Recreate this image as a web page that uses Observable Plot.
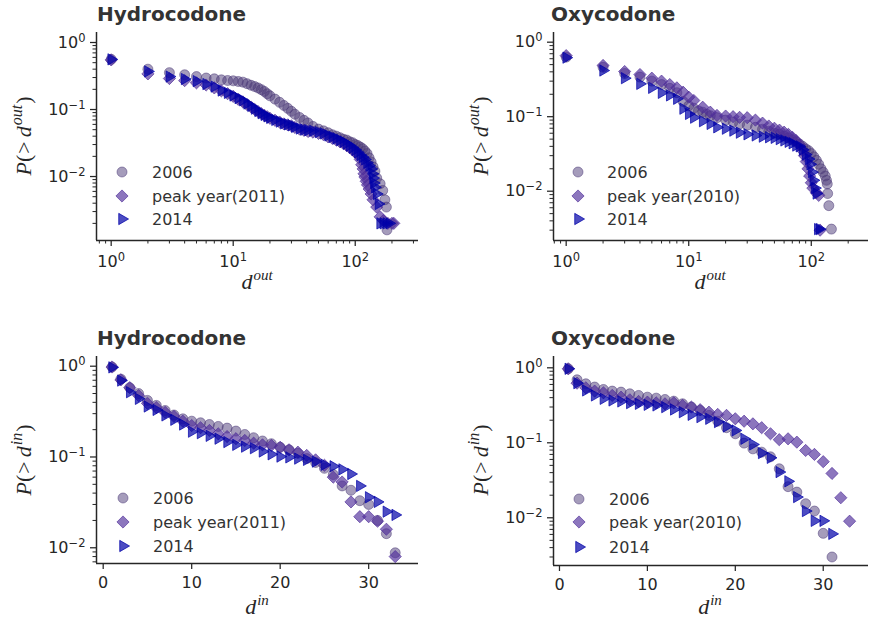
<!DOCTYPE html>
<html><head><meta charset="utf-8">
<script src="https://cdn.jsdelivr.net/npm/d3@7"></script>
<script src="https://cdn.jsdelivr.net/npm/@observablehq/plot@0.6"></script>
<style>
body{margin:0;background:#fff;}
#wrap{position:relative;width:870px;height:627px;overflow:hidden;background:#fff;}
.panel{position:absolute;}
#overlay{position:absolute;left:0;top:0;pointer-events:none;}
</style></head>
<body><div id="wrap"></div>
<script>
// ---------- tick labels ----------
const logYTicks = [1, 0.1, 0.01];
const logYLabels = ["10⁰", "10⁻¹", "10⁻²"];
const logXTicks = [1, 10, 100];
const logXLabels = ["10⁰", "10¹", "10²"];
const linXTicks = [0, 10, 20, 30];
const linXLabels = ["0", "10", "20", "30"];

// ---------- legends / titles ----------
const hydLegend = ["2006", "peak year(2011)", "2014"];
const oxyLegend = ["2006", "peak year(2010)", "2014"];
const titles = ["Hydrocodone", "Oxycodone", "Hydrocodone", "Oxycodone"];

// ---------- Panel A: Hydrocodone out-degree ----------
const hOut06D = [1,2,3,4,5,6,7,8,9,10,11,12,13,14,15,16,17,18,19,20,22,24,26,28,30,32,35,38,41,45,50,55,60,65,70,75,80,85,90,95,100,105,110,115,120,125,130,135,140,145,150,160,168,175,180,182];
const hOut06P = [0.56,0.40,0.355,0.33,0.31,0.295,0.287,0.277,0.271,0.268,0.262,0.256,0.243,0.23,0.22,0.21,0.198,0.186,0.172,0.16,0.143,0.128,0.115,0.104,0.094,0.085,0.076,0.069,0.063,0.056,0.051,0.048,0.045,0.042,0.040,0.038,0.036,0.035,0.033,0.032,0.030,0.029,0.0275,0.026,0.024,0.022,0.019,0.0165,0.014,0.012,0.0095,0.0078,0.0062,0.0045,0.0035,0.0016];
const hOut11D = [1,2,3,4,5,6,7,8,9,10,11,12,13,14,15,16,17,18,19,20,22,24,26,28,30,32,35,38,41,45,50,55,60,65,70,75,80,85,90,95,100,105,110,113,116,118,120,123,126,130,135,140,150,160,170,185,200,207];
const hOut11P = [0.55,0.34,0.29,0.27,0.25,0.232,0.21,0.19,0.172,0.157,0.142,0.13,0.118,0.109,0.1,0.093,0.087,0.082,0.078,0.074,0.069,0.065,0.061,0.059,0.057,0.054,0.051,0.049,0.047,0.046,0.044,0.042,0.039,0.037,0.035,0.033,0.031,0.029,0.027,0.025,0.023,0.021,0.018,0.015,0.013,0.011,0.0098,0.0085,0.0075,0.0065,0.0055,0.0045,0.0035,0.0025,0.0022,0.002,0.002,0.002];
const hOut14D = [1,2,3,4,5,6,7,8,9,10,11,12,13,14,15,16,17,18,19,20,22,24,26,28,30,32,35,38,41,45,50,55,60,65,70,75,80,85,90,95,100,105,110,115,120,125,130,135,138,140,142,145,150,155,160,170,180,190];
const hOut14P = [0.56,0.37,0.31,0.285,0.265,0.24,0.22,0.192,0.177,0.162,0.148,0.137,0.123,0.113,0.103,0.095,0.088,0.083,0.079,0.075,0.07,0.066,0.062,0.06,0.058,0.055,0.052,0.05,0.049,0.048,0.046,0.044,0.041,0.039,0.037,0.035,0.033,0.031,0.029,0.027,0.025,0.023,0.021,0.0195,0.018,0.016,0.0145,0.013,0.011,0.0095,0.008,0.0069,0.0055,0.0039,0.002,0.002,0.002,0.002];

// ---------- Panel B: Oxycodone out-degree ----------
const oOut06D = [1,2,3,4,5,6,7,8,9,10,11,12,13,14,15,17,20,23,26,30,35,40,45,50,55,60,65,70,75,80,85,90,95,100,105,110,115,120,125,130,133,135,136,139,146];
const oOut06P = [0.63,0.46,0.38,0.34,0.30,0.27,0.24,0.21,0.16,0.14,0.13,0.12,0.115,0.108,0.103,0.097,0.09,0.085,0.08,0.077,0.072,0.068,0.064,0.06,0.058,0.055,0.052,0.049,0.046,0.043,0.04,0.037,0.035,0.032,0.029,0.026,0.023,0.02,0.018,0.016,0.014,0.0125,0.0093,0.0064,0.0031];
const oOut10D = [1,2,3,4,5,6,7,8,9,10,11,13,15,17,20,23,26,30,35,40,45,50,55,60,65,70,75,80,85,88,91,94,97,100,103,110,115,118];
const oOut10P = [0.66,0.487,0.404,0.368,0.329,0.30,0.27,0.244,0.213,0.183,0.165,0.134,0.115,0.104,0.102,0.1,0.098,0.097,0.09,0.082,0.075,0.07,0.066,0.062,0.058,0.053,0.048,0.042,0.035,0.03,0.025,0.02,0.016,0.013,0.011,0.0095,0.0088,0.003];
const oOut14D = [1,2,3,4,5,6,7,8,9,10,11,13,15,17,20,23,26,30,35,40,45,50,55,60,65,70,75,80,85,90,95,98,101,104,107,110,113,117];
const oOut14P = [0.62,0.417,0.329,0.276,0.244,0.209,0.193,0.174,0.128,0.109,0.097,0.087,0.08,0.072,0.069,0.065,0.061,0.058,0.056,0.054,0.053,0.052,0.05,0.048,0.046,0.044,0.041,0.04,0.036,0.031,0.027,0.023,0.018,0.014,0.011,0.0093,0.0031,0.0031];

// ---------- Panel C: Hydrocodone in-degree ----------
const hInD = [1,2,3,4,5,6,7,8,9,10,11,12,13,14,15,16,17,18,19,20,21,22,23,24,25,26,27,28,29,30,31,32,33];
const hIn06P = [0.98,0.72,0.58,0.50,0.42,0.37,0.325,0.29,0.263,0.248,0.238,0.228,0.217,0.208,0.193,0.177,0.163,0.15,0.14,0.128,0.12,0.11,0.096,0.087,0.075,0.064,0.048,0.043,0.033,0.030,0.020,0.0143,0.0088];
const hIn11P = [0.98,0.707,0.58,0.475,0.39,0.35,0.31,0.28,0.248,0.222,0.21,0.196,0.18,0.168,0.159,0.152,0.142,0.136,0.134,0.128,0.12,0.113,0.104,0.093,0.081,0.06,0.053,0.032,0.022,0.022,0.0196,0.016,0.008];
const hIn14P = [0.97,0.695,0.517,0.437,0.36,0.33,0.287,0.257,0.228,0.19,0.183,0.171,0.159,0.146,0.136,0.13,0.125,0.115,0.107,0.101,0.099,0.096,0.093,0.089,0.082,0.079,0.073,0.065,0.048,0.036,0.032,0.025,0.023];

// ---------- Panel D: Oxycodone in-degree ----------
const oIn06D = [1,2,3,4,5,6,7,8,9,10,11,12,13,14,15,16,17,18,19,20,21,22,23,24,25,26,27,28,29,30,31];
const oIn06P = [0.97,0.692,0.612,0.554,0.514,0.489,0.474,0.45,0.428,0.406,0.394,0.378,0.359,0.331,0.30,0.27,0.232,0.194,0.159,0.132,0.099,0.083,0.075,0.065,0.045,0.026,0.022,0.0154,0.0123,0.0062,0.003];
const oIn10D = [1,2,3,4,5,6,7,8,9,10,11,12,13,14,15,16,17,18,19,20,21,22,23,24,25,26,27,28,29,30,31,32,33];
const oIn10P = [0.97,0.624,0.541,0.489,0.464,0.428,0.406,0.375,0.356,0.349,0.341,0.331,0.341,0.315,0.299,0.276,0.256,0.239,0.232,0.209,0.194,0.179,0.159,0.132,0.11,0.113,0.102,0.079,0.07,0.056,0.039,0.0185,0.009];
const oIn14D = [1,2,3,4,5,6,7,8,9,10,11,12,13,14,15,16,17,18,19,20,21,22,23,24,25,26,27,28,29,30,31];
const oIn14P = [0.97,0.624,0.499,0.428,0.386,0.367,0.356,0.338,0.331,0.321,0.315,0.299,0.278,0.256,0.236,0.22,0.209,0.189,0.165,0.146,0.113,0.095,0.073,0.063,0.0407,0.0306,0.0189,0.0123,0.0091,0.0091,0.0061];

// ---------- styles ----------
const ink = "#262626";
const S06 = {symbol: "circle", r: 5, color: "#4b3a78", op: 0.5, rotate: 0, d3type: d3.symbolCircle};
const SPK = {symbol: "diamond2", r: 5.5, color: "#4f2d9a", op: 0.65, rotate: 0, d3type: d3.symbolDiamond2};
const S14 = {symbol: "triangle", r: 4.2, color: "#0000a8", op: 0.7, rotate: 90, d3type: d3.symbolTriangle};
const styleList = [S06, SPK, S14];

const rows = (D, P) => D.map((d, i) => ({d, p: P[i]}));
const dotMark = (data, st) => Plot.dot(data, {
  x: "d", y: "p", symbol: st.symbol, r: st.r, rotate: st.rotate,
  fill: st.color, fillOpacity: st.op, stroke: st.color, strokeOpacity: st.op, strokeWidth: 1
});
function minorLog(lo, hi) {
  const out = [];
  for (let e = -4; e <= 3; e++) for (let m = 2; m <= 9; m++) {
    const v = m * Math.pow(10, e);
    if (v >= lo && v <= hi) out.push(v);
  }
  return out;
}
const supMap = {"⁰": "0", "¹": "1", "²": "2", "⁻": "−"};
const NS = "http://www.w3.org/2000/svg";
function fixSuperscripts(svg) {
  svg.querySelectorAll("text").forEach(t => {
    const m = t.textContent.match(/^10([⁰¹²⁻]+)$/);
    if (!m) return;
    t.textContent = "10";
    const ts = document.createElementNS(NS, "tspan");
    ts.setAttribute("font-size", "11.5");
    ts.setAttribute("dy", "-6");
    ts.textContent = [...m[1]].map(c => supMap[c]).join("");
    t.appendChild(ts);
  });
}

const wrap = document.getElementById("wrap");
function panel(cfg) {
  const xMap = new Map(cfg.xTicks.map((t, i) => [t, cfg.xLabels[i]]));
  const yMap = new Map(logYTicks.map((t, i) => [t, logYLabels[i]]));
  const marks = [
    Plot.axisY(minorLog(cfg.yDomain[0], cfg.yDomain[1]), {anchor: "left", tickSize: 3.5, tickFormat: () => "", label: null, strokeWidth: 1}),
    Plot.axisY(logYTicks, {anchor: "left", tickSize: 6, tickPadding: 5, tickFormat: d => yMap.get(d), label: null, fontSize: 16, strokeWidth: 1.25}),
    Plot.axisX(cfg.xTicks, {anchor: "bottom", tickSize: 6, tickPadding: cfg.xType === "log" ? 9 : 7, tickFormat: d => xMap.get(d), label: null, fontSize: 16, strokeWidth: 1.25}),
    Plot.ruleX([cfg.xDomain[0]], {stroke: ink, strokeWidth: 1.5}),
    Plot.ruleY([cfg.yDomain[0]], {stroke: ink, strokeWidth: 1.5}),
  ];
  if (cfg.xType === "log") {
    marks.unshift(Plot.axisX(minorLog(cfg.xDomain[0], cfg.xDomain[1]), {anchor: "bottom", tickSize: 3.5, tickFormat: () => "", label: null, strokeWidth: 1}));
  }
  cfg.series.forEach((s, i) => marks.push(dotMark(s, styleList[i])));
  const svg = Plot.plot({
    width: cfg.W, height: cfg.H,
    marginLeft: cfg.ml, marginRight: cfg.mr, marginTop: cfg.mt, marginBottom: cfg.mb,
    x: {type: cfg.xType, domain: cfg.xDomain},
    y: {type: "log", domain: cfg.yDomain},
    style: {fontFamily: "DejaVu Sans", fontSize: "16px", color: ink, background: "transparent", overflow: "visible"},
    marks
  });
  fixSuperscripts(svg);
  const div = document.createElement("div");
  div.className = "panel";
  div.style.left = cfg.left + "px";
  div.style.top = cfg.top + "px";
  div.appendChild(svg);
  wrap.appendChild(div);
}

panel({left: 0, top: 0, W: 435, H: 313, ml: 96, mr: 17, mt: 32, mb: 73,
  xType: "log", xDomain: [0.758, 330], yDomain: [0.00111, 1.41], xTicks: logXTicks, xLabels: logXLabels,
  series: [rows(hOut06D, hOut06P), rows(hOut11D, hOut11P), rows(hOut14D, hOut14P)]});
panel({left: 435, top: 0, W: 435, H: 313, ml: 118, mr: 2, mt: 32, mb: 73,
  xType: "log", xDomain: [0.788, 293], yDomain: [0.00218, 1.349], xTicks: logXTicks, xLabels: logXLabels,
  series: [rows(oOut06D, oOut06P), rows(oOut10D, oOut10P), rows(oOut14D, oOut14P)]});
panel({left: 0, top: 313, W: 435, H: 314, ml: 96, mr: 17, mt: 43, mb: 64,
  xType: "linear", xDomain: [-0.757, 35.63], yDomain: [0.00671, 1.279], xTicks: linXTicks, xLabels: linXLabels,
  series: [rows(hInD, hIn06P), rows(hInD, hIn11P), rows(hInD, hIn14P)]});
panel({left: 435, top: 313, W: 435, H: 314, ml: 118, mr: 2, mt: 43, mb: 62,
  xType: "linear", xDomain: [-0.68, 35.15], yDomain: [0.00231, 1.415], xTicks: linXTicks, xLabels: linXLabels,
  series: [rows(oIn06D, oIn06P), rows(oIn10D, oIn10P), rows(oIn14D, oIn14P)]});

// ---------- overlay: titles, axis labels, legends ----------
const ov = d3.select("#wrap").append("svg").attr("id", "overlay").attr("width", 870).attr("height", 627);
const titlePos = [[97, 21], [551, 21], [97, 345], [551, 345]];
titles.forEach((t, i) => ov.append("text").attr("x", titlePos[i][0]).attr("y", titlePos[i][1])
  .attr("font-family", "DejaVu Sans").attr("font-weight", "bold").attr("font-size", 20).attr("fill", "#333").text(t));

function yLabel(x, y, sup) {
  const t = ov.append("text").attr("transform", `translate(${x},${y}) rotate(-90)`).attr("text-anchor", "middle")
    .attr("font-family", "Liberation Serif").attr("font-size", 22).attr("fill", ink);
  t.append("tspan").attr("font-style", "italic").text("P");
  t.append("tspan").text("(");
  t.append("tspan").attr("dx", 1).text(">");
  t.append("tspan").attr("dx", 4).attr("font-style", "italic").text("d");
  t.append("tspan").attr("font-style", "italic").attr("font-size", 16).attr("dy", -9).attr("dx", 1).text(sup);
  t.append("tspan").attr("dy", 9).attr("dx", 1).text(")");
}
function xLabel(x, y, sup) {
  const t = ov.append("text").attr("x", x).attr("y", y).attr("text-anchor", "middle")
    .attr("font-family", "Liberation Serif").attr("font-size", 22).attr("fill", ink);
  t.append("tspan").attr("font-style", "italic").text("d");
  t.append("tspan").attr("font-style", "italic").attr("font-size", 15).attr("dy", -9).attr("dx", 1).text(sup);
}
yLabel(31, 136, "out"); yLabel(488, 136, "out");
yLabel(31, 460, "in"); yLabel(488, 460, "in");
xLabel(257, 289, "out"); xLabel(710, 289, "out");
xLabel(257, 614, "in"); xLabel(710, 614, "in");

function legend(mx, ys, tx, labels) {
  labels.forEach((lab, i) => {
    const st = styleList[i];
    ov.append("path").attr("d", d3.symbol().type(st.d3type).size(Math.PI * st.r * st.r)())
      .attr("transform", `translate(${mx},${ys[i]}) rotate(${st.rotate})`)
      .attr("fill", st.color).attr("fill-opacity", st.op)
      .attr("stroke", st.color).attr("stroke-opacity", st.op).attr("stroke-width", 1);
    ov.append("text").attr("x", tx).attr("y", ys[i]).attr("dy", "0.35em")
      .attr("font-family", "DejaVu Sans").attr("font-size", 16).attr("fill", "#333").text(lab);
  });
}
legend(122, [172, 196, 219], 152, hydLegend);
legend(578, [172, 196, 219], 607, oxyLegend);
legend(123, [498, 522, 546], 153, hydLegend);
legend(579, [499, 522, 547], 609, oxyLegend);
</script></body></html>
